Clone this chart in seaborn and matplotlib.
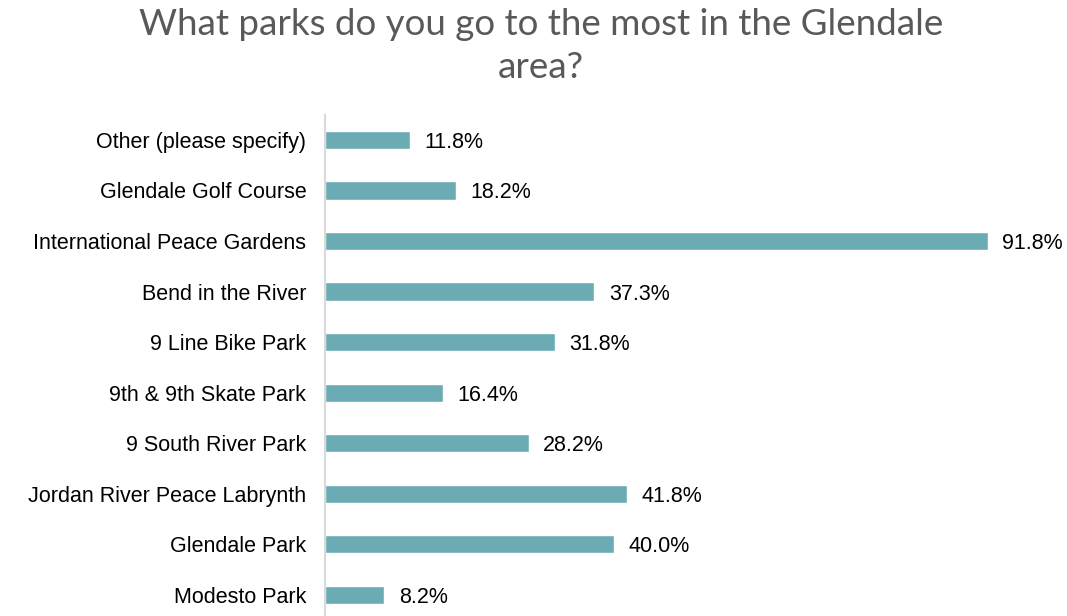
import matplotlib
matplotlib.use("Agg")
import matplotlib.pyplot as plt
import seaborn as sns
import pandas as pd

categories = [
    "Other (please specify)",
    "Glendale Golf Course",
    "International Peace Gardens",
    "Bend in the River",
    "9 Line Bike Park",
    "9th & 9th Skate Park",
    "9 South River Park",
    "Jordan River Peace Labrynth",
    "Glendale Park",
    "Modesto Park",
]
values = [11.8, 18.2, 91.8, 37.3, 31.8, 16.4, 28.2, 41.8, 40.0, 8.2]
title = "What parks do you go to the most in the Glendale\narea?"

sns.set_theme(style="white")
plt.rcParams["font.family"] = ["Liberation Sans", "DejaVu Sans"]

df = pd.DataFrame({"park": categories, "pct": values})

fig = plt.figure(figsize=(10.67, 6.16), dpi=100)
ax = fig.add_axes([325 / 1067, -4 / 616, 722 / 1067, (620 - 114.7) / 616])

sns.barplot(data=df, x="pct", y="park", color="#6BACB4", width=0.36,
            saturation=1, ax=ax, orient="h")

ax.set_xlim(0, 100)
ax.set_xlabel("")
ax.set_ylabel("")
ax.set_xticks([])
for s in ["top", "right", "bottom"]:
    ax.spines[s].set_visible(False)
ax.spines["left"].set_color("#D9D9D9")
ax.spines["left"].set_linewidth(1.5)
ax.tick_params(axis="y", length=0, pad=13.5, labelsize=15.5, labelcolor="#000000")

for i, v in enumerate(values):
    ax.text(v + 2.0, i, f"{v:.1f}%", va="center_baseline", ha="left", fontsize=15.5, color="#000000")

fig.text(541 / 1067, 1 - 46 / 616, title, ha="center", va="center",
         fontsize=26.5, color="#595959", family=["Lato", "DejaVu Sans"], fontweight="normal",
         linespacing=1.4)

fig.savefig("out.png", dpi=100)
